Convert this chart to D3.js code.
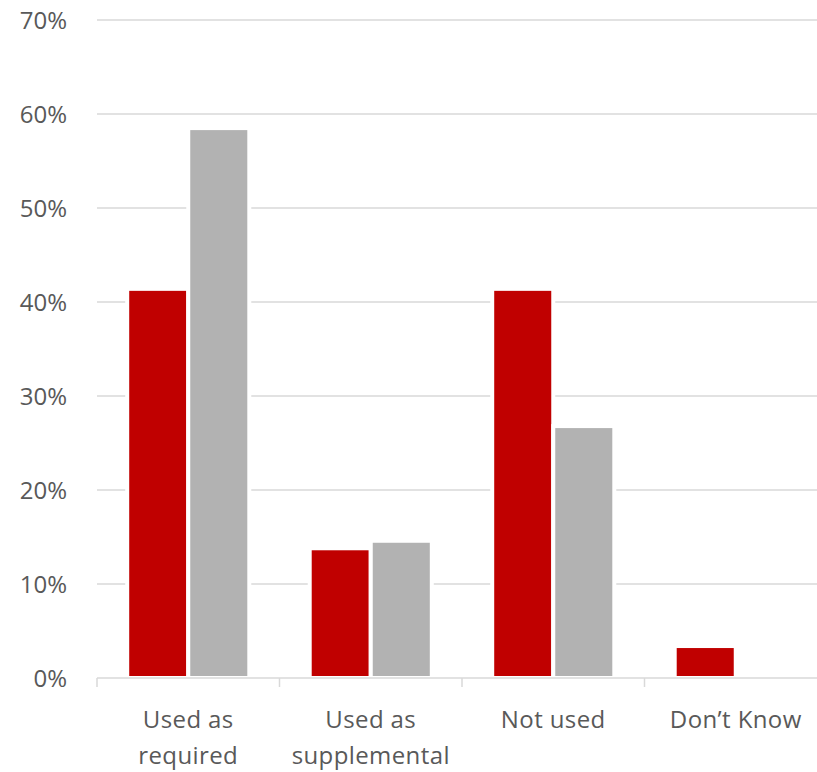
<!DOCTYPE html>
<html>
<head>
<meta charset="utf-8">
<script src="https://cdn.jsdelivr.net/npm/d3@7"></script>
<style>
  html, body { margin: 0; padding: 0; background: #fff; }
  svg { display: block; }
</style>
</head>
<body>
<svg id="chart" width="817" height="772"></svg>
<script>
const categories = [["Used as", "required"], ["Used as", "supplemental"], ["Not used"], ["Don\u2019t Know"]];
const categoryKeys = ["Used as required", "Used as supplemental", "Not used", "Don\u2019t Know"];
const seriesNames = ["Series A", "Series B"];
const seriesA = [0.414, 0.138, 0.414, 0.034];
const seriesB = [0.585, 0.146, 0.268, 0];
const yTicks = [0, 0.1, 0.2, 0.3, 0.4, 0.5, 0.6, 0.7];
const colors = ["#c00000", "#b2b2b2"];

const svg = d3.select("#chart");
const plotLeft = 97, plotRight = 827, plotTop = 20, plotBottom = 678;

const x = d3.scaleBand().domain(categoryKeys).range([plotLeft, plotRight]).paddingInner(0.331).paddingOuter(0.1655);
const xs = d3.scaleBand().domain(seriesNames).range([0, x.bandwidth()]).padding(0);
const y = d3.scaleLinear().domain([0, 0.7]).range([plotBottom, plotTop]);

const font = "'Open Sans', Lato, sans-serif";
const textColor = "#595959";

// gridlines
svg.append("g").selectAll("line").data(yTicks.slice(1)).join("line")
  .attr("x1", plotLeft).attr("x2", 817)
  .attr("y1", d => y(d)).attr("y2", d => y(d))
  .attr("stroke", "#d9d9d9").attr("stroke-width", 1.5);

// y labels
svg.append("g").selectAll("text").data(yTicks).join("text")
  .attr("x", 67).attr("y", d => y(d) + 9)
  .attr("text-anchor", "end")
  .attr("font-family", font).attr("font-size", 24)
  .attr("fill", textColor)
  .text(d3.format(".0%"));

// bars
const data = [seriesA, seriesB];
data.forEach((vals, si) => {
  const rows = vals.map((v, i) => ({ v, c: categoryKeys[i] })).filter(d => d.v > 0);
  svg.append("g").selectAll("rect").data(rows).join("rect")
    .attr("x", d => x(d.c) + xs(seriesNames[si]))
    .attr("width", xs.bandwidth())
    .attr("y", d => y(d.v))
    .attr("height", d => y(0) - y(d.v))
    .attr("fill", colors[si])
    .attr("stroke", "#ffffff").attr("stroke-width", 4);
});

// x axis line and ticks
svg.append("line")
  .attr("x1", plotLeft).attr("x2", 817).attr("y1", plotBottom).attr("y2", plotBottom)
  .attr("stroke", "#d9d9d9").attr("stroke-width", 1.5);
const boundaries = d3.range(categoryKeys.length + 1).map(i => plotLeft + i * x.step());
svg.append("g").selectAll("line").data(boundaries).join("line")
  .attr("x1", d => d).attr("x2", d => d)
  .attr("y1", plotBottom).attr("y2", plotBottom + 9)
  .attr("stroke", "#d9d9d9").attr("stroke-width", 1.5);

// x labels
const lab = svg.append("g").selectAll("text").data(categories).join("text")
  .attr("text-anchor", "middle")
  .attr("font-family", font).attr("font-size", 24)
  .attr("letter-spacing", 0.4)
  .attr("fill", textColor)
  .attr("x", (d, i) => x(categoryKeys[i]) + x.bandwidth() / 2)
  .attr("y", 728);
lab.selectAll("tspan").data(d => d).join("tspan")
  .attr("x", function () { return d3.select(this.parentNode).attr("x"); })
  .attr("dy", (d, i) => i === 0 ? 0 : 36)
  .text(d => d);
</script>
</body>
</html>
